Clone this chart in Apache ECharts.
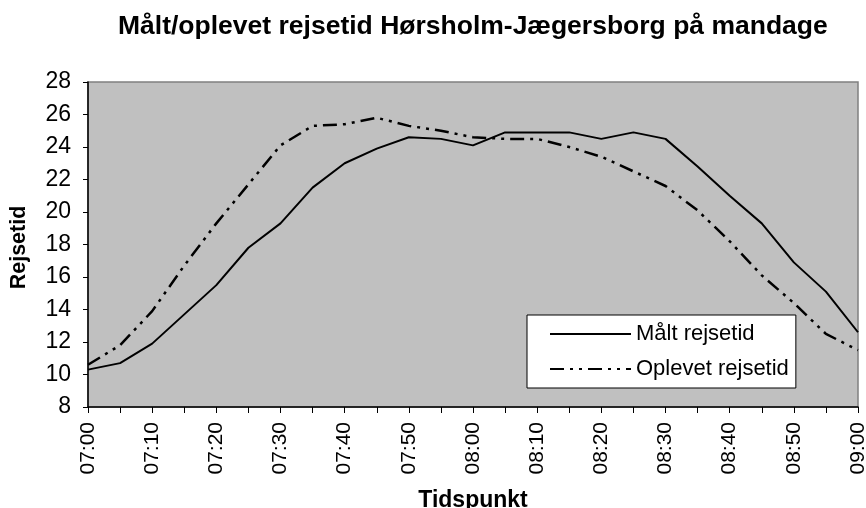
<!DOCTYPE html>
<html>
<head>
<meta charset="utf-8">
<script src="https://cdn.jsdelivr.net/npm/echarts@6/dist/echarts.min.js"></script>
<style>
  html, body { margin: 0; padding: 0; background: #fff; }
  #chart { width: 866px; height: 508px; }
</style>
</head>
<body>
<div id="chart"></div>
<script>
const times = [
  "07:00", "07:05", "07:10", "07:15", "07:20", "07:25", "07:30", "07:35", "07:40",
  "07:45", "07:50", "07:55", "08:00", "08:05", "08:10", "08:15", "08:20",
  "08:25", "08:30", "08:35", "08:40", "08:45", "08:50", "08:55", "09:00"
];
const maalt = [
  10.3, 10.7, 11.9, 13.7, 15.5, 17.8, 19.3, 21.5, 23.0,
  23.9, 24.6, 24.5, 24.1, 24.9, 24.9, 24.9, 24.5,
  24.9, 24.5, 22.8, 21.0, 19.3, 16.9, 15.1, 12.6
];
const oplevet = [
  10.6, 11.8, 13.9, 16.7, 19.3, 21.7, 24.1, 25.3, 25.4,
  25.8, 25.3, 25.0, 24.6, 24.5, 24.5, 24.0, 23.4,
  22.5, 21.6, 20.1, 18.2, 16.1, 14.4, 12.5, 11.5
];
const seriesNames = ["Målt rejsetid", "Oplevet rejsetid"];

const font = "Liberation Sans, Arial, sans-serif";
const chart = echarts.init(document.getElementById("chart"));

const option = {
  backgroundColor: "#fff",
  animation: false,
  title: {
    text: "Målt/oplevet rejsetid Hørsholm-Jægersborg på mandage",
    left: 118,
    top: 13,
    padding: 0,
    textStyle: { fontFamily: font, fontSize: 26.5, fontWeight: "bold", color: "#000" }
  },
  legend: {
    orient: "vertical",
    left: 527,
    top: 315,
    padding: [8, 7, 8, 22],
    itemGap: 13,
    itemWidth: 81,
    itemHeight: 14,
    backgroundColor: "#fff",
    borderColor: "#000",
    borderWidth: 1,
    borderRadius: 0,
    itemStyle: { opacity: 0 },
    textStyle: { fontFamily: font, fontSize: 22, lineHeight: 22, color: "#000" },
    data: seriesNames
  },
  grid: {
    left: 88,
    right: 8,
    top: 82,
    bottom: 101,
    outerBoundsMode: "none",
    show: true,
    backgroundColor: "#c0c0c0",
    borderColor: "#808080",
    borderWidth: 1.5
  },
  xAxis: {
    type: "category",
    data: times,
    boundaryGap: false,
    name: "Tidspunkt",
    nameLocation: "middle",
    nameGap: 82,
    nameTextStyle: { fontFamily: font, fontSize: 23, fontWeight: "bold", color: "#000" },
    axisLine: { lineStyle: { color: "#000", width: 1.5 } },
    axisTick: { interval: 0, length: 6, lineStyle: { color: "#000" } },
    axisLabel: {
      interval: 1,
      rotate: 90,
      margin: 15,
      fontFamily: font,
      fontSize: 21,
      color: "#000"
    },
    splitLine: { show: false }
  },
  yAxis: {
    type: "value",
    min: 8,
    max: 28,
    interval: 2,
    name: "Rejsetid",
    nameLocation: "middle",
    nameGap: 58,
    nameTextStyle: {
      fontFamily: font,
      fontSize: 21.5,
      fontWeight: "bold",
      color: "#000",
      padding: [0, 6, 0, 0]
    },
    axisLine: { show: true, lineStyle: { color: "#000", width: 1.5 } },
    axisTick: { show: true, length: 5, lineStyle: { color: "#000" } },
    axisLabel: { margin: 17, fontFamily: font, fontSize: 23, color: "#000" },
    splitLine: { show: false }
  },
  series: [
    {
      name: seriesNames[0],
      type: "line",
      data: maalt,
      symbol: "none",
      lineStyle: { color: "#000", width: 2 },
      itemStyle: { color: "#000" }
    },
    {
      name: seriesNames[1],
      type: "line",
      data: oplevet,
      symbol: "none",
      lineStyle: { color: "#000", width: 2.5, type: [14, 6, 3, 6, 3, 6] },
      itemStyle: { color: "#000" }
    }
  ]
};

chart.setOption(option);
</script>
</body>
</html>
